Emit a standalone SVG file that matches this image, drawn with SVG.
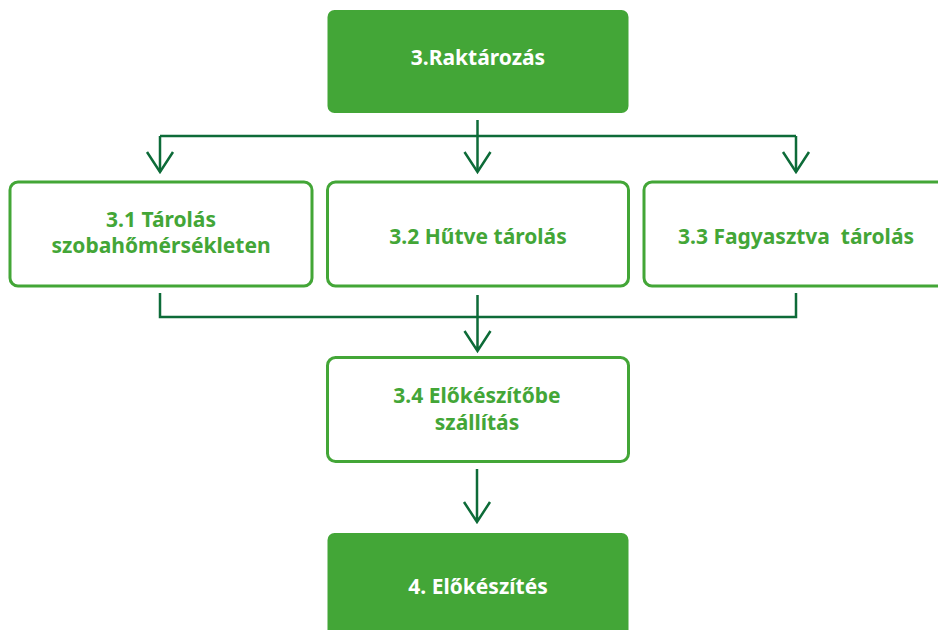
<svg xmlns="http://www.w3.org/2000/svg" width="938" height="630" viewBox="0 0 938 630">
<defs>
<style>
.solid{fill:#43a637;}
.outline{fill:#ffffff;stroke:#43a637;stroke-width:3;}
.t{font-family:"Noto Sans","Liberation Sans",sans-serif;font-weight:700;font-size:21px;text-anchor:middle;}
.tw{fill:#ffffff;}
.tg{fill:#43a637;}
.c{fill:none;stroke:#0d6b38;stroke-width:2.5;}
</style>
</defs>
<rect width="938" height="630" fill="#ffffff"/>
<g id="connectors">
<path class="c" d="M477.5 120 V172"/>
<path class="c" d="M160 136 H796"/>
<path class="c" d="M160 136 V172 M796 136 V172"/>
<path class="c" d="M147 152 L160 172 L173 152 M464.5 152 L477.5 172 L490.5 152 M783 152 L796 172 L809 152"/>
<path class="c" d="M160 293 V317 H796 V293"/>
<path class="c" d="M477.5 295 V351 M464.5 331 L477.5 351 L490.5 331"/>
<path class="c" d="M477 469 V522 M464 502 L477 522 L490 502"/>
</g>
<g id="n3">
<rect class="solid" x="327.5" y="10" width="301" height="103" rx="7"/>
<text class="t tw" x="478" y="65">3.Raktározás</text>
</g>
<g id="n31">
<rect class="outline" x="10" y="182" width="302" height="104" rx="8"/>
<text class="t tg" x="161" y="227">3.1 Tárolás</text>
<text class="t tg" x="161" y="253">szobahőmérsékleten</text>
</g>
<g id="n32">
<rect class="outline" x="327.5" y="182" width="301" height="104" rx="8"/>
<text class="t tg" x="478" y="244">3.2 Hűtve tárolás</text>
</g>
<g id="n33">
<rect class="outline" x="644" y="182" width="302" height="104" rx="8"/>
<text class="t tg" x="796" y="244" xml:space="preserve">3.3 Fagyasztva  tárolás</text>
</g>
<g id="n34">
<rect class="outline" x="327.5" y="357.5" width="301" height="104" rx="8"/>
<text class="t tg" x="477" y="403">3.4 Előkészítőbe</text>
<text class="t tg" x="477" y="430">szállítás</text>
</g>
<g id="n4">
<rect class="solid" x="327.5" y="533" width="301" height="110" rx="7"/>
<text class="t tw" x="478" y="594">4. Előkészítés</text>
</g>
</svg>
